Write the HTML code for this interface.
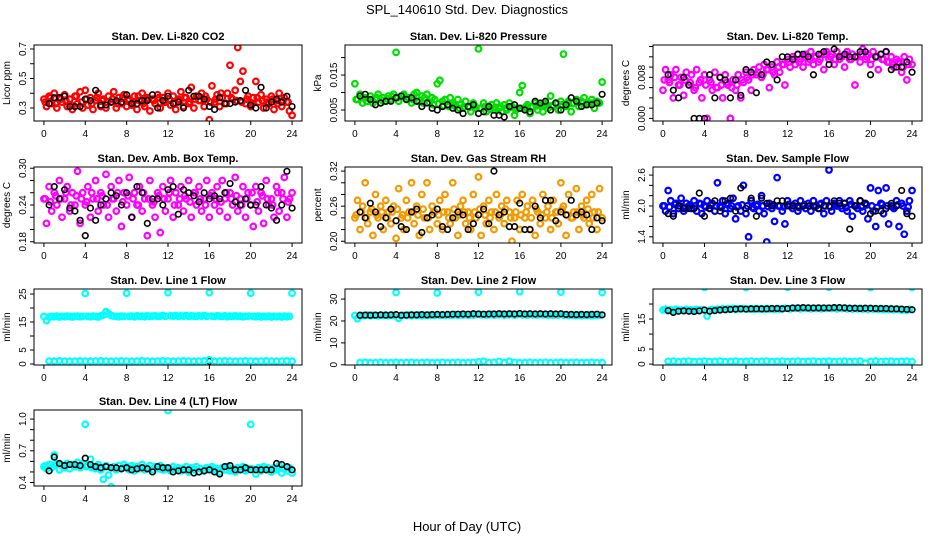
<!DOCTYPE html>
<html><head><meta charset="utf-8"><style>
body{margin:0;background:#fff}
svg{display:block;font-family:"Liberation Sans",sans-serif}
</style></head><body>
<svg id="chart" width="936" height="540" viewBox="0 0 936 540" xmlns="http://www.w3.org/2000/svg">
<text x="467" y="14" font-size="13" text-anchor="middle">SPL_140610  Std. Dev. Diagnostics</text>
<text x="467" y="531" font-size="13" text-anchor="middle">Hour of Day (UTC)</text>
</svg>
<script>
const hoursC=[0,0.25,0.5,0.75,1,1.25,1.5,1.75,2,2.25,2.5,2.75,3,3.25,3.5,3.75,4,4.25,4.5,4.75,5,5.25,5.5,5.75,6,6.25,6.5,6.75,7,7.25,7.5,7.75,8,8.25,8.5,8.75,9,9.25,9.5,9.75,10,10.25,10.5,10.75,11,11.25,11.5,11.75,12,12.25,12.5,12.75,13,13.25,13.5,13.75,14,14.25,14.5,14.75,15,15.25,15.5,15.75,16,16.25,16.5,16.75,17,17.25,17.5,17.75,18,18.25,18.5,18.75,19,19.25,19.5,19.75,20,20.25,20.5,20.75,21,21.25,21.5,21.75,22,22.25,22.5,22.75,23,23.25,23.5,23.75,24];
const hoursC2=[0.125,0.625,1.125,1.625,2.125,2.625,3.125,3.625,4.125,4.625,5.125,5.625,6.125,6.625,7.125,7.625,8.125,8.625,9.125,9.625,10.125,10.625,11.125,11.625,12.125,12.625,13.125,13.625,14.125,14.625,15.125,15.625,16.125,16.625,17.125,17.625,18.125,18.625,19.125,19.625,20.125,20.625,21.125,21.625,22.125,22.625,23.125,23.625];
const hoursK=[0.5,1,1.5,2,2.5,3,3.5,4,4.5,5,5.5,6,6.5,7,7.5,8,8.5,9,9.5,10,10.5,11,11.5,12,12.5,13,13.5,14,14.5,15,15.5,16,16.5,17,17.5,18,18.5,19,19.5,20,20.5,21,21.5,22,22.5,23,23.5,24];
const xTicks=[0,4,8,12,16,20,24];

const co2Red=[0.36,0.31,0.38,0.33,0.40,0.30,0.37,0.34,0.39,0.31,0.36,0.29,0.38,0.33,0.41,0.30,0.42,0.32,0.37,0.29,0.35,0.40,0.31,0.36,0.30,0.38,0.34,0.41,0.30,0.37,0.33,0.39,0.31,0.36,0.32,0.38,0.29,0.35,0.40,0.31,0.37,0.28,0.36,0.33,0.39,0.30,0.37,0.34,0.40,0.32,0.38,0.29,0.36,0.41,0.31,0.37,0.33,0.44,0.30,0.38,0.35,0.40,0.31,0.36,0.22,0.45,0.34,0.39,0.31,0.37,0.33,0.40,0.59,0.36,0.42,0.71,0.48,0.55,0.33,0.38,0.31,0.37,0.48,0.34,0.39,0.30,0.36,0.33,0.38,0.29,0.35,0.40,0.31,0.37,0.34,0.28,0.25];
const co2Red2=[0.34,0.37,0.33,0.36,0.35,0.32,0.38,0.34,0.36,0.33,0.37,0.35,0.34,0.36,0.33,0.37,0.35,0.34,0.38,0.33,0.36,0.35,0.37,0.34,0.36,0.33,0.35,0.37,0.34,0.36,0.35,0.38,0.34,0.36,0.40,0.33,0.37,0.35,0.34,0.36,0.33,0.37,0.35,0.34,0.36,0.33,0.35,0.34];
const co2Black=[0.33,0.37,0.37,0.38,0.31,0.31,0.31,0.36,0.35,0.42,0.32,0.32,0.34,0.35,0.34,0.39,0.33,0.33,0.35,0.35,0.39,0.30,0.35,0.38,0.33,0.34,0.30,0.42,0.38,0.38,0.36,0.31,0.29,0.37,0.33,0.33,0.34,0.35,0.42,0.32,0.30,0.44,0.30,0.34,0.36,0.34,0.38,0.31];
const presGreen=[0.0125,0.008,0.0095,0.007,0.0085,0.0075,0.009,0.007,0.008,0.0095,0.007,0.0085,0.0075,0.009,0.008,0.0095,0.0215,0.0075,0.009,0.0095,0.008,0.0085,0.007,0.0095,0.010,0.0075,0.009,0.0085,0.0095,0.007,0.0085,0.008,0.0125,0.0135,0.0075,0.008,0.0065,0.0085,0.007,0.006,0.008,0.0065,0.0055,0.0075,0.006,0.0045,0.007,0.0055,0.0225,0.0055,0.007,0.0045,0.006,0.0065,0.005,0.007,0.0055,0.0045,0.0065,0.005,0.007,0.006,0.0035,0.0055,0.010,0.012,0.0055,0.0065,0.004,0.006,0.007,0.005,0.0065,0.0045,0.007,0.0055,0.009,0.006,0.007,0.005,0.0075,0.021,0.006,0.0075,0.0045,0.007,0.008,0.006,0.0075,0.0085,0.0065,0.007,0.008,0.0055,0.0075,0.007,0.013];
const presGreen2=[0.008,0.0085,0.0075,0.008,0.0085,0.0078,0.0082,0.0088,0.0085,0.009,0.0085,0.008,0.0075,0.007,0.0072,0.0065,0.0068,0.0062,0.006,0.0065,0.0055,0.006,0.0058,0.0062,0.0055,0.006,0.0052,0.0058,0.006,0.0055,0.0058,0.005,0.0055,0.006,0.0058,0.0062,0.006,0.0065,0.0062,0.0068,0.0065,0.007,0.0068,0.0072,0.007,0.0068,0.007,0.0072];
const presBlack=[0.009,0.0095,0.008,0.0065,0.007,0.0075,0.0075,0.0085,0.009,0.008,0.0085,0.0075,0.006,0.007,0.0055,0.005,0.006,0.0065,0.0055,0.005,0.004,0.006,0.0065,0.004,0.0045,0.006,0.0035,0.0035,0.003,0.006,0.0065,0.0055,0.005,0.0045,0.0075,0.007,0.0075,0.005,0.007,0.005,0.0065,0.0085,0.0075,0.006,0.0065,0.0065,0.007,0.0095];
const tempMag=[0.0055,0.0095,0.0075,0.0085,0.004,0.0095,0.0065,0.008,0.0045,0.0090,0.0065,0.0085,0.0055,0.0095,0.007,0.004,0.0085,0.0,0.0075,0.0055,0.009,0.006,0.008,0.004,0.0085,0.0065,0.0,0.0075,0.0055,0.0085,0.004,0.007,0.0090,0.0075,0.0055,0.0095,0.0085,0.0100,0.008,0.0105,0.0095,0.0060,0.0100,0.0085,0.011,0.0090,0.0105,0.0065,0.0115,0.0100,0.0120,0.0105,0.0125,0.0115,0.0100,0.0125,0.011,0.0130,0.0105,0.0120,0.0110,0.0125,0.0095,0.0130,0.0115,0.0125,0.0105,0.0130,0.0115,0.0120,0.0100,0.0130,0.0115,0.0125,0.0065,0.0120,0.0110,0.0135,0.0115,0.0125,0.0105,0.0130,0.0120,0.0095,0.0125,0.0115,0.0130,0.0110,0.0120,0.0100,0.0115,0.0110,0.0090,0.0120,0.0075,0.0115,0.0105];
const tempMag2=[0.0075,0.007,0.008,0.0065,0.0075,0.007,0.006,0.0075,0.0065,0.007,0.006,0.0065,0.007,0.006,0.0065,0.0075,0.008,0.0085,0.009,0.0085,0.0095,0.009,0.010,0.0105,0.011,0.0115,0.011,0.012,0.0115,0.012,0.0115,0.0125,0.012,0.0115,0.012,0.0125,0.0115,0.012,0.0125,0.012,0.0115,0.012,0.0115,0.011,0.0105,0.011,0.010,0.0105];
const tempBlack=[0.0085,0.0055,0.004,0.008,0.0065,0.0,0.0,0.0,0.0085,0.004,0.008,0.0075,0.004,0.0075,0.0045,0.0095,0.009,0.0050,0.0085,0.0110,0.0105,0.0075,0.0120,0.0120,0.0115,0.0125,0.0125,0.0120,0.0085,0.0125,0.0130,0.0105,0.0135,0.0120,0.0125,0.0120,0.0120,0.0130,0.0130,0.0085,0.0120,0.0125,0.0130,0.0095,0.0100,0.0100,0.0110,0.0090];
const ambMag=[0.25,0.21,0.27,0.23,0.26,0.24,0.28,0.22,0.25,0.27,0.23,0.26,0.24,0.295,0.21,0.26,0.24,0.27,0.22,0.25,0.28,0.23,0.26,0.24,0.29,0.22,0.27,0.25,0.23,0.28,0.205,0.26,0.24,0.285,0.22,0.26,0.24,0.27,0.23,0.25,0.19,0.28,0.24,0.22,0.26,0.195,0.27,0.23,0.25,0.28,0.22,0.26,0.24,0.27,0.23,0.25,0.28,0.22,0.26,0.24,0.27,0.23,0.25,0.28,0.22,0.26,0.24,0.27,0.23,0.28,0.25,0.22,0.26,0.24,0.285,0.23,0.25,0.27,0.22,0.26,0.24,0.205,0.27,0.23,0.26,0.21,0.28,0.24,0.25,0.22,0.27,0.23,0.26,0.285,0.22,0.25,0.26];
const ambMag2=[0.25,0.245,0.255,0.25,0.26,0.24,0.255,0.25,0.245,0.26,0.25,0.255,0.24,0.25,0.26,0.245,0.255,0.25,0.24,0.26,0.25,0.245,0.255,0.25,0.26,0.24,0.25,0.255,0.245,0.26,0.25,0.24,0.255,0.25,0.245,0.26,0.25,0.255,0.24,0.25,0.26,0.245,0.255,0.25,0.24,0.26,0.25,0.245];
const ambBlack=[0.24,0.27,0.25,0.265,0.235,0.23,0.215,0.19,0.235,0.215,0.24,0.25,0.26,0.255,0.24,0.26,0.22,0.27,0.26,0.21,0.25,0.25,0.24,0.265,0.27,0.225,0.265,0.26,0.255,0.245,0.26,0.25,0.255,0.25,0.26,0.275,0.245,0.24,0.25,0.24,0.24,0.27,0.24,0.235,0.215,0.24,0.295,0.235];
const rhOrange=[0.24,0.27,0.22,0.26,0.30,0.23,0.25,0.21,0.28,0.24,0.26,0.22,0.27,0.25,0.23,0.26,0.205,0.29,0.24,0.22,0.27,0.25,0.30,0.23,0.26,0.21,0.28,0.24,0.30,0.22,0.26,0.25,0.23,0.27,0.22,0.28,0.25,0.23,0.30,0.24,0.21,0.26,0.27,0.23,0.25,0.22,0.28,0.24,0.31,0.21,0.26,0.23,0.27,0.25,0.22,0.28,0.24,0.26,0.23,0.27,0.25,0.20,0.24,0.27,0.22,0.28,0.24,0.26,0.22,0.27,0.21,0.25,0.23,0.28,0.24,0.26,0.22,0.27,0.25,0.23,0.30,0.26,0.21,0.28,0.24,0.25,0.29,0.22,0.26,0.24,0.27,0.23,0.28,0.25,0.22,0.29,0.24];
const rhOrange2=[0.245,0.25,0.24,0.255,0.245,0.25,0.24,0.25,0.255,0.245,0.24,0.25,0.245,0.255,0.24,0.25,0.245,0.25,0.24,0.255,0.245,0.25,0.24,0.25,0.255,0.245,0.24,0.25,0.245,0.255,0.24,0.25,0.245,0.25,0.24,0.255,0.245,0.25,0.24,0.25,0.255,0.245,0.24,0.25,0.245,0.255,0.24,0.25];
const rhBlack=[0.25,0.24,0.265,0.25,0.225,0.24,0.255,0.235,0.225,0.22,0.25,0.255,0.215,0.24,0.245,0.255,0.225,0.22,0.24,0.25,0.245,0.22,0.23,0.245,0.255,0.23,0.32,0.245,0.25,0.225,0.225,0.265,0.22,0.22,0.26,0.24,0.27,0.27,0.235,0.25,0.245,0.27,0.245,0.25,0.245,0.22,0.24,0.235];
const flowBlue=[2.0,1.9,2.3,2.1,1.85,2.05,1.95,2.15,1.9,2.05,2.0,1.95,2.1,1.9,2.05,1.85,2.0,2.1,1.95,2.05,1.9,2.45,2.0,2.1,1.85,2.05,1.95,2.15,1.75,2.0,1.9,2.4,1.85,1.4,2.1,1.95,2.0,1.9,2.2,1.85,1.3,2.05,1.95,1.7,2.55,2.0,1.9,1.65,2.1,2.0,1.95,2.05,1.9,2.1,2.0,1.95,2.05,1.9,2.1,2.0,1.95,2.05,1.85,2.1,2.7,1.9,2.05,2.0,2.1,1.95,2.05,1.9,2.1,1.8,2.0,1.95,2.1,1.9,2.05,1.75,2.35,1.9,1.6,2.3,2.05,1.85,2.35,1.65,2.0,1.95,2.1,1.6,2.05,1.45,1.9,2.1,2.3];
const flowBlue2=[2.0,1.98,2.03,2.0,1.97,2.02,2.0,2.04,1.98,2.01,2.0,1.97,2.03,2.0,1.98,2.02,2.0,1.97,2.03,2.0,1.99,2.02,2.0,1.98,2.03,2.0,1.97,2.02,2.0,1.98,2.03,2.0,1.98,2.02,2.0,1.97,2.03,2.0,1.98,2.02,2.0,1.97,2.03,2.0,1.98,2.02,2.0,1.98];
const flowBlack=[1.85,1.8,2.0,1.95,1.95,1.95,2.25,1.8,1.95,2.1,1.9,2.1,2.15,1.9,2.35,1.95,2.15,1.8,2.15,2.05,2.0,2.1,2.1,2.0,2.0,2.0,2.0,2.0,2.0,1.95,2.0,2.0,2.1,2.05,2.05,1.55,2.0,2.1,2.05,1.85,1.9,1.9,1.95,2.05,2.0,2.3,1.85,1.8];
const line1Cyan=[17,15.5,16.8,17,16.9,17.1,16.8,17,16.9,17.1,17,16.8,17,17.1,16.9,17,25.2,17,16.9,17.1,17,16.8,17.2,17.5,18.7,18,17.3,17.1,17,16.9,17.1,17,25.3,17,17.1,16.9,17.2,17,17.1,16.9,17.2,17,17.1,17.2,17,17.1,17.3,17,25.5,17.2,17.1,17.3,17,17.2,17.1,17.3,17,17.2,17.1,17,17.2,17.1,17.3,17,25.5,17.1,17,17.2,17.1,17,17.2,16.9,17.1,17,17.2,17,17.1,16.9,17,17.1,25.3,17,16.9,17.1,16.8,17,16.9,17.1,16.8,17,16.9,17,16.8,17.1,16.9,17,25.3];
const line1CyanLow=[1.0,0.9,1.1,1.0,0.9,1.0,1.1,1.0,0.9,1.0,1.1,1.0,0.9,1.0,1.1,1.0,0.9,1.0,1.1,1.0,0.9,1.0,1.1,1.0,0.9,1.0,1.1,1.0,0.9,1.0,1.1,1.5,0.9,1.0,1.1,1.0,0.9,1.0,1.1,1.0,0.9,1.0,1.1,1.0,0.9,1.0,1.1,1.0];
const line1Black=[1.0,1.0,1.0,1.0,1.0,1.0,1.0,1.0,1.0,1.0,1.0,1.0,1.0,1.0,1.0,1.0,1.0,1.0,1.0,1.0,1.0,1.0,1.0,1.0,1.0,1.0,1.0,1.0,1.0,1.0,1.0,1.0,1.0,1.0,1.0,1.0,1.0,1.0,1.0,1.0,1.0,1.0,1.0,1.0,1.0,1.0,1.0,1.0];
const line2Cyan=[22.5,21,22.6,22.4,22.5,22.7,22.4,22.6,22.5,22.4,22.6,22.5,22.7,22.4,22.6,22.5,33,21.2,22.4,22.6,22.5,22.7,22.4,22.6,22.5,22.7,22.4,22.6,22.5,22.7,22.6,22.5,32.8,22.6,22.7,22.5,22.8,22.6,22.7,22.9,22.6,22.8,22.7,22.9,22.6,22.8,22.7,22.9,33.2,22.8,22.9,22.7,22.8,23,22.7,22.9,22.8,23,22.7,22.9,22.8,23,22.7,22.9,33.4,22.8,22.9,22.7,23,22.8,22.9,22.7,23,22.8,22.9,22.7,22.8,22.6,22.9,22.7,33.2,22.6,22.8,22.5,22.7,22.6,22.5,22.7,22.4,22.6,22.5,22.7,22.4,22.6,22.5,22.6,33];
const line2CyanLow=[1.0,1.1,0.9,1.0,1.1,0.9,1.0,1.1,0.9,1.0,1.1,0.9,1.0,1.1,0.9,1.0,1.1,0.9,1.0,1.1,0.9,1.0,1.1,1.3,1.6,1.0,1.1,1.5,1.0,1.6,1.1,0.9,1.0,1.1,0.9,1.0,1.1,0.9,1.0,1.1,0.9,1.0,1.1,0.9,1.0,1.1,0.9,1.0];
const line2Black=[22.6,22.7,22.6,22.7,22.8,22.7,22.8,22.9,22.6,22.7,22.8,22.8,22.9,22.8,22.9,23.0,22.9,23.0,23.1,23.1,23.2,23.1,23.3,23.2,23.1,23.2,23.2,23.3,23.2,23.3,23.2,23.4,23.2,23.3,23.2,23.3,23.2,23.3,23.2,23.3,23.0,23.0,22.9,23.0,22.9,23.0,23.1,22.8];
const line3Cyan=[18,18.3,17.8,18.1,17.9,18.2,17.8,18,17.9,18.2,17.8,18.1,17.9,18.2,18,18.1,25.5,16,17.9,18.2,18,18.3,18.1,18.4,18.2,18.4,18.3,18.5,18.2,18.4,18.3,18.5,25.5,18.3,18.4,18.2,18.5,18.3,18.4,18.2,18.5,18.3,18.4,18.2,18.5,18.3,18.4,18.6,25.6,18.4,18.6,18.5,18.7,18.4,18.6,18.5,18.7,18.4,18.6,18.5,18.7,18.4,18.6,18.5,25.6,18.5,18.7,18.4,18.6,18.5,18.7,18.4,18.6,18.3,18.5,18.4,18.6,18.3,18.5,18.2,25.5,18.3,18.4,18.2,18.5,18.1,18.3,18.2,18.4,18.1,18.3,18.2,18,18.1,17.9,18.2,25.5];
const line3CyanLow=[0.9,1.0,0.8,0.9,1.0,0.8,0.9,1.0,0.8,0.9,1.0,0.8,0.9,1.0,0.8,0.9,1.0,0.8,0.9,1.0,0.8,0.9,1.0,0.8,0.9,1.0,0.8,0.9,1.0,0.8,0.9,1.0,0.8,0.9,1.0,0.8,0.9,1.0,0.3,0.9,1.0,0.8,0.9,1.0,0.8,0.9,1.0,0.8];
const line3Black=[17.8,17.2,17.6,17.7,17.6,17.5,17.7,18.0,17.6,17.8,18.0,18.1,18.2,18.3,18.4,18.3,18.4,18.4,18.4,18.4,18.5,18.5,18.4,18.5,18.7,18.7,18.8,18.7,18.7,18.7,18.7,18.7,18.8,18.8,18.7,18.6,18.6,18.5,18.6,18.6,18.5,18.5,18.5,18.4,18.4,18.3,18.2,18.1];
const line4Cyan=[0.55,0.53,0.57,0.54,0.66,0.58,0.52,0.56,0.54,0.58,0.53,0.57,0.55,0.59,0.54,0.58,0.95,0.56,0.62,0.55,0.53,0.57,0.52,0.43,0.56,0.47,0.36,0.55,0.52,0.56,0.53,0.57,0.55,0.52,0.56,0.51,0.55,0.53,0.57,0.52,0.54,0.56,0.51,0.55,0.53,0.56,0.52,0.54,1.08,0.51,0.55,0.52,0.54,0.51,0.53,0.55,0.50,0.54,0.52,0.55,0.50,0.53,0.51,0.54,0.52,0.55,0.51,0.53,0.50,0.54,0.52,0.55,0.51,0.53,0.50,0.54,0.52,0.55,0.51,0.53,0.95,0.52,0.48,0.54,0.51,0.55,0.52,0.53,0.50,0.54,0.52,0.56,0.49,0.53,0.51,0.54,0.49];
const line4Cyan2=[0.56,0.57,0.56,0.57,0.56,0.57,0.55,0.56,0.55,0.54,0.55,0.54,0.55,0.54,0.53,0.54,0.53,0.54,0.53,0.54,0.53,0.52,0.53,0.52,0.53,0.52,0.53,0.52,0.53,0.52,0.53,0.52,0.53,0.52,0.53,0.52,0.53,0.52,0.53,0.52,0.53,0.52,0.53,0.54,0.53,0.54,0.53,0.54];
const line4Black=[0.51,0.64,0.58,0.56,0.57,0.57,0.56,0.63,0.57,0.55,0.54,0.55,0.54,0.54,0.53,0.54,0.52,0.53,0.54,0.53,0.50,0.55,0.54,0.54,0.50,0.51,0.52,0.52,0.49,0.50,0.51,0.52,0.50,0.48,0.55,0.56,0.52,0.52,0.54,0.52,0.52,0.52,0.52,0.52,0.58,0.57,0.55,0.52];

const NS="http://www.w3.org/2000/svg";
const svg=document.getElementById('chart');
function mk(tag,attrs,parent){const e=document.createElementNS(NS,tag);for(const k in attrs)e.setAttribute(k,attrs[k]);(parent||svg).appendChild(e);return e;}

const cols=[[34,302],[345,612],[653,922]];
const rows=[45,167,289,410];
const H=76;
const panels=[
 {t:"Stan. Dev. Li-820 CO2",yl:"Licor ppm",c:0,r:0,ymin:0.212,ymax:0.727,ticks:[0.3,0.4,0.5,0.6,0.7],labs:["0.3","","0.5","","0.7"],series:[[hoursC,co2Red,"#ff0000"],[hoursC2,co2Red2,"#ff0000"],[hoursK,co2Black,"#000"]]},
 {t:"Stan. Dev. Li-820 Pressure",yl:"kPa",c:1,r:0,ymin:0.00186,ymax:0.0236,ticks:[0.005,0.010,0.015,0.020],labs:["0.005","","0.015",""],series:[[hoursC,presGreen,"#00e000"],[hoursC2,presGreen2,"#00e000"],[hoursK,presBlack,"#000"]]},
 {t:"Stan. Dev. Li-820 Temp.",yl:"degrees C",c:2,r:0,ymin:-0.0005,ymax:0.0143,ticks:[0,0.002,0.004,0.006,0.008,0.010,0.012,0.014],labs:["0.000","","","","0.008","","",""],series:[[hoursC,tempMag,"#ff00ff"],[hoursC2,tempMag2,"#ff00ff"],[hoursK,tempBlack,"#000"]]},
 {t:"Stan. Dev. Amb. Box Temp.",yl:"degrees C",c:0,r:1,ymin:0.178,ymax:0.302,ticks:[0.18,0.20,0.22,0.24,0.26,0.28,0.30],labs:["0.18","","","0.24","","","0.30"],series:[[hoursC,ambMag,"#ff00ff"],[hoursC2,ambMag2,"#ff00ff"],[hoursK,ambBlack,"#000"]]},
 {t:"Stan. Dev. Gas Stream RH",yl:"percent",c:1,r:1,ymin:0.197,ymax:0.327,ticks:[0.20,0.22,0.24,0.26,0.28,0.30,0.32],labs:["0.20","","","0.26","","","0.32"],series:[[hoursC,rhOrange,"#f29a00"],[hoursC2,rhOrange2,"#f29a00"],[hoursK,rhBlack,"#000"]]},
 {t:"Stan. Dev. Sample Flow",yl:"ml/min",c:2,r:1,ymin:1.28,ymax:2.757,ticks:[1.4,1.6,1.8,2.0,2.2,2.4,2.6],labs:["1.4","","","2.0","","","2.6"],series:[[hoursC,flowBlue,"#0000ff"],[hoursC2,flowBlue2,"#0000ff"],[hoursK,flowBlack,"#000"]]},
 {t:"Stan. Dev. Line 1 Flow",yl:"ml/min",c:0,r:2,ymin:-0.36,ymax:26.8,ticks:[0,5,10,15,20,25],labs:["0","5","","15","","25"],series:[[hoursC,line1Cyan,"#00ffff"],[hoursK,line1Black,"#000"],[hoursK,line1CyanLow,"#00ffff"]]},
 {t:"Stan. Dev. Line 2 Flow",yl:"ml/min",c:1,r:2,ymin:-0.1,ymax:34.6,ticks:[0,10,20,30],labs:["0","10","20","30"],series:[[hoursC,line2Cyan,"#00ffff"],[hoursK,line2CyanLow,"#00ffff"],[hoursK,line2Black,"#000"]]},
 {t:"Stan. Dev. Line 3 Flow",yl:"ml/min",c:2,r:2,ymin:-0.3,ymax:25,ticks:[0,5,10,15,20],labs:["0","5","","15",""],series:[[hoursC,line3Cyan,"#00ffff"],[hoursK,line3CyanLow,"#00ffff"],[hoursK,line3Black,"#000"]]},
 {t:"Stan. Dev. Line 4 (LT) Flow",yl:"ml/min",c:0,r:3,ymin:0.367,ymax:1.086,ticks:[0.4,0.5,0.6,0.7,0.8,0.9,1.0],labs:["0.4","","","0.7","","","1.0"],series:[[hoursC,line4Cyan,"#00ffff"],[hoursC2,line4Cyan2,"#00ffff"],[hoursK,line4Black,"#000"]]}
];

panels.forEach((p,pi)=>{
 const L=cols[p.c][0],R=cols[p.c][1],T=rows[p.r],B=T+H,W=R-L;
 const xs=h=>L+(h+0.96)/25.92*W;
 const ys=v=>B-(v-p.ymin)/(p.ymax-p.ymin)*H;
 const g=mk('g',{});
 
 
 const tt=mk('text',{x:(L+R)/2,y:T-5,'font-size':11,'font-weight':'bold','text-anchor':'middle'},g);
 tt.textContent=p.t;
 
 
 const yl=mk('text',{x:0,y:0,'font-size':10,'text-anchor':'middle',transform:`translate(${L-24},${T+H/2}) rotate(-90)`},g);
 yl.textContent=p.yl;
 
 
 const xa=mk('g',{},g);
 
 
 mk('line',{x1:xs(xTicks[0]),x2:xs(xTicks[xTicks.length-1]),y1:B,y2:B,stroke:'#000','stroke-width':1},xa);
 xTicks.forEach(v=>{
  mk('line',{x1:xs(v),x2:xs(v),y1:B,y2:B+4,stroke:'#000'},xa);
  const t=mk('text',{x:xs(v),y:B+16,'font-size':10,'text-anchor':'middle'},xa);
  t.textContent=v;
  
  
 });
 const ya=mk('g',{},g);
 
 
 mk('line',{x1:L,x2:L,y1:ys(p.ticks[0]),y2:ys(p.ticks[p.ticks.length-1]),stroke:'#000'},ya);
 p.ticks.forEach((v,i)=>{
  mk('line',{x1:L-4,x2:L,y1:ys(v),y2:ys(v),stroke:'#000'},ya);
  if(p.labs[i]){
   const t=mk('text',{x:0,y:0,'font-size':10,'text-anchor':'middle',transform:`translate(${L-8},${ys(v)}) rotate(-90)`},ya);
   t.textContent=p.labs[i];
   
   
  }
 });
 const cp='clip'+pi;
 const cpe=mk('clipPath',{id:cp},g);
 mk('rect',{x:L,y:T,width:W,height:H},cpe);
 p.series.forEach((s,si)=>{
  const isBlack=s[2]==='#000';
  const sg=mk('g',{'clip-path':`url(#${cp})`,fill:'none',stroke:s[2],'stroke-width':isBlack?1.6:2.2},g);
  
  
  const n=Math.min(s[0].length,s[1].length);
  for(let i=0;i<n;i++){
   const c=mk('circle',{cx:xs(s[0][i]),cy:ys(s[1][i]),r:2.8},sg);
   
   
  }
 });
 const box=mk('rect',{x:L,y:T,width:W,height:H,fill:'none',stroke:'#000','stroke-width':1},g);
 
 
});
</script>
</body></html>
